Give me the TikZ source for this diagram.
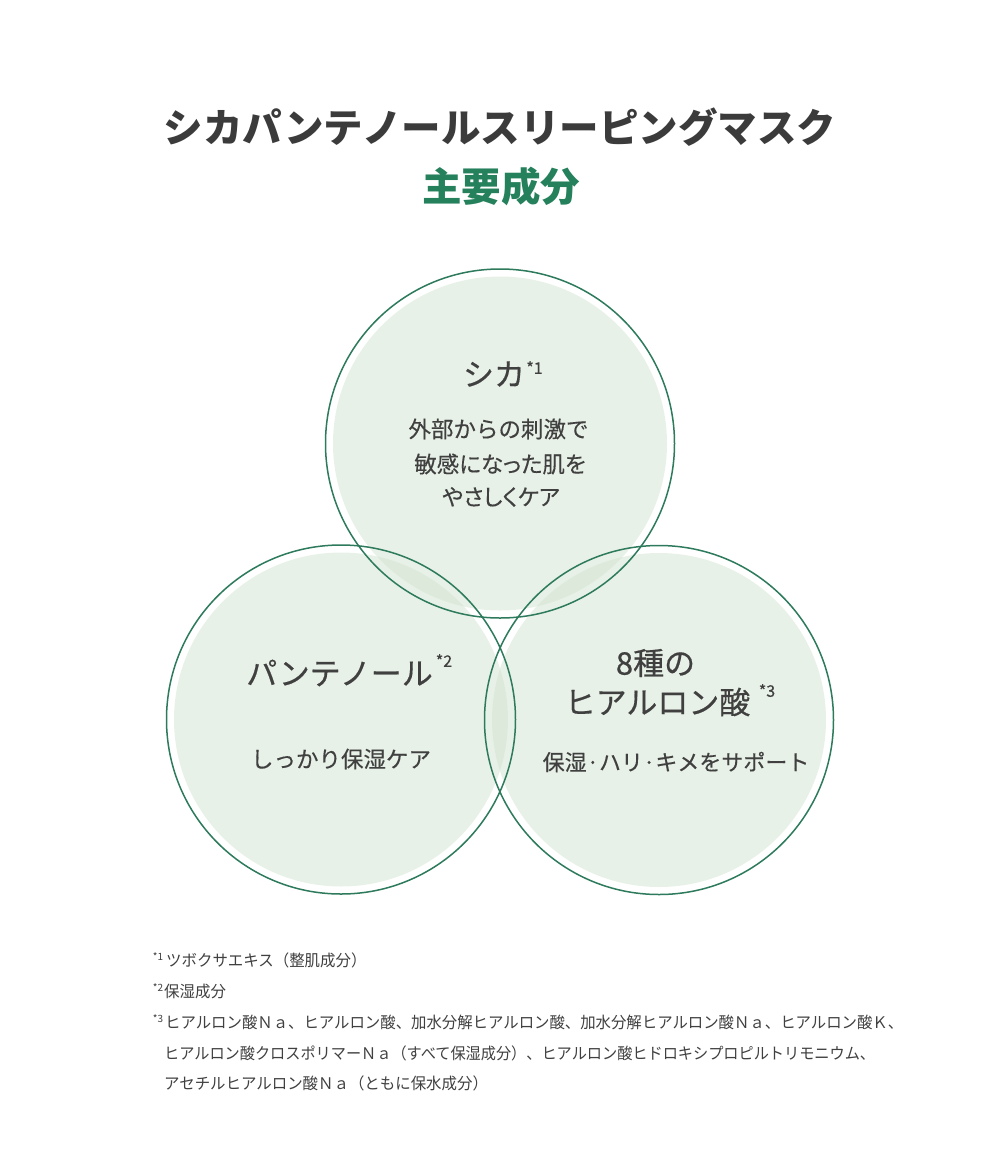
\documentclass[tikz,border=0pt]{standalone}
\usepackage{fontspec}
\setmainfont{Noto Sans CJK JP}
\newfontfamily\jphead{Noto Sans CJK JP}[FakeBold=0.5]
\newfontfamily\jpbody{Noto Sans CJK JP}[FakeBold=0.3]
\newfontfamily\jppalt{Noto Sans CJK JP}[RawFeature=+palt, FakeBold=0.3]
\definecolor{titlegray}{HTML}{3B3B3B}
\definecolor{textgray}{HTML}{404040}
\definecolor{titlegreen}{HTML}{25805C}
\definecolor{ringgreen}{HTML}{2D7A5C}
\definecolor{diskgreen}{HTML}{D3E5D1}
\newcommand{\fnx}[2][0.965]{\scalebox{#1}[1]{#2}}
\begin{document}
\begin{tikzpicture}[x=1pt,y=-1pt,
  ring/.style={draw=ringgreen, line width=1.5pt},
  disk/.style={fill=diskgreen, fill opacity=0.5},
  head/.style={text=textgray, font=\jphead\fontsize{31}{36}\selectfont, inner sep=0pt},
  body/.style={text=textgray, font=\jpbody\fontsize{22.5}{34}\selectfont, align=center, inner sep=0pt},
  supmark/.style={text=textgray, font=\jpbody\fontsize{16}{18}\selectfont, inner sep=0pt},
  foot/.style={text=textgray, font=\fontsize{16}{20}\selectfont, anchor=west, inner sep=0pt},
  footsup/.style={text=textgray, font=\fontsize{10}{12}\selectfont, inner sep=0pt}
]
\useasboundingbox (0,0) rectangle (1000,1160);
\fill[white] (0,0) rectangle (1000,1160);

% titles
\node[text=titlegray, font=\fontsize{39.5}{44}\bfseries, inner sep=0pt] (title) at (500,127) {シカパンテノールスリーピングマスク};
\node[text=titlegreen, font=\fontsize{39.5}{44}\bfseries, inner sep=0pt] (subtitle) at (501,186) {主要成分};

% disks
\fill[disk] (500,443.5) circle[radius=167pt];
\fill[disk] (341,719.5) circle[radius=167pt];
\fill[disk] (659,720) circle[radius=167pt];
% rings
\draw[ring] (500,443.5) circle[radius=174.5pt];
\draw[ring] (341,719.5) circle[radius=174.5pt];
\draw[ring] (659,720) circle[radius=174.5pt];

% top circle
\node[head] (cika) at (494,374) {シカ};
\node[supmark] (cikas) at (534.5,367.5) {*1};
\node[body] (cikab1) at (498.5,429) {外部からの刺激で};
\node[body] (cikab2) at (500,464) {\jppalt 敏感になった肌を};
\node[body] (cikab3) at (501,497) {\jppalt やさしくケア};

% left circle
\node[head] (pan) at (339.5,673) {パンテノール};
\node[supmark] (pans) at (444,660.5) {*2};
\node[body] (panb) at (341,759) {しっかり保湿ケア};

% right circle
\node[head] (hya1) at (655.5,663) {8種の};
\node[head] (hya2) at (657.5,702) {ヒアルロン酸};
\node[supmark] (hyas) at (767,690.5) {*3};
\node[body, font=\jpbody\fontsize{22}{34}\selectfont] (hyab) at (676,762) {保湿·ハリ·キメをサポート};

% footnotes
\node[footsup] (f1s) at (158,957) {*1};
\node[foot] (f1) at (166,960) {\fnx{ツボクサエキス（整肌成分）}};
\node[footsup] (f2s) at (158,988) {*2};
\node[foot] (f2) at (164,991) {\fnx{保湿成分}};
\node[footsup] (f3s) at (158,1019) {*3};
\node[foot] (f3a) at (165,1022) {\fnx[0.962]{ヒアルロン酸Ｎａ、ヒアルロン酸、加水分解ヒアルロン酸、加水分解ヒアルロン酸Ｎａ、ヒアルロン酸Ｋ、}};
\node[foot] (f3b) at (164,1053) {\fnx[0.948]{ヒアルロン酸クロスポリマーＮａ（すべて保湿成分）、ヒアルロン酸ヒドロキシプロピルトリモニウム、}};
\node[foot] (f3c) at (164,1083) {\fnx{アセチルヒアルロン酸Ｎａ（ともに保水成分）}};
\end{tikzpicture}
\end{document}
